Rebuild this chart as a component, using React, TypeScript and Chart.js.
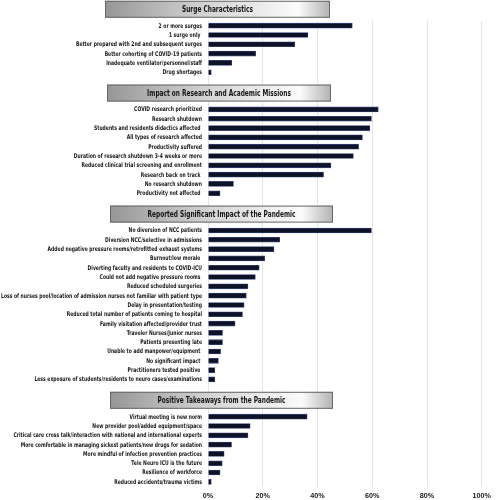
import React, { useEffect, useRef } from "react";
import { Chart, registerables } from "chart.js";

Chart.register(...registerables);

const sectionTitles = [
  "Surge Characteristics",
  "Impact on Research and Academic Missions",
  "Reported Significant Impact of the Pandemic",
  "Positive Takeaways from the Pandemic",
];

const surgeLabels = [
  "2 or more surges",
  "1 surge only ",
  "Better prepared with 2nd and subsequent surges",
  "Better cohorting of COVID-19 patients",
  "Inadequate ventilator/personnel/staff",
  "Drug shortages",
];
const surgeValues = [52.7, 36.5, 31.7, 17.4, 8.7, 1.2];

const researchLabels = [
  "COVID research prioritized",
  "Research shutdown",
  "Students and residents didactics affected ",
  "All types of research affected",
  "Productivity suffered",
  "Duration of research shutdown 3-4 weeks or more",
  "Reduced clinical trial screening and enrollment",
  "Research back on track ",
  "No research shutdown",
  "Productivity not affected ",
];
const researchValues = [62.2, 59.7, 59.1, 56.4, 55.0, 53.1, 44.9, 42.2, 9.3, 4.4];

const impactLabels = [
  "No diversion of NCC patients",
  "Diversion NCC/selective in admissions",
  "Added negative pressure rooms/retrofitted exhaust systems",
  "Burnout/low morale ",
  "Diverting faculty and residents to COVID-ICU",
  "Could not add negative pressure rooms ",
  "Reduced scheduled surgeries",
  "Loss of nurses pool/location of admission nurses not familiar with patient type",
  "Delay in presentation/testing",
  "Reduced total number of patients coming to hospital",
  "Family visitation affected/provider trust",
  "Traveler Nurses/Junior nurses",
  "Patients presenting late",
  "Unable to add manpower/equipment ",
  "No significant impact ",
  "Practitioners tested positive ",
  "Less exposure of students/residents to neuro cases/examinations",
];
const impactValues = [59.7, 26.2, 24.1, 20.7, 18.7, 17.3, 14.6, 14.0, 13.2, 12.6, 9.9, 5.3, 5.3, 4.6, 3.8, 2.5, 2.5];

const positiveLabels = [
  "Virtual meeting is new norm",
  "New provider pool/added equipment/space",
  "Critical care cross talk/interaction with national and international experts",
  "More comfortable in managing sickest patients/new drugs for sedation",
  "More mindful of infection prevention practices",
  "Tele Neuro ICU is the future",
  "Resilience of workforce",
  "Reduced accidents/trauma victims",
];
const positiveValues = [36.2, 15.4, 14.6, 8.6, 5.9, 5.2, 4.4, 1.2];

const xTicks = [0, 20, 40, 60, 80, 100];

const sections = [
  { labels: surgeLabels, values: surgeValues },
  { labels: researchLabels, values: researchValues },
  { labels: impactLabels, values: impactValues },
  { labels: positiveLabels, values: positiveValues },
];

const GAP = 3;
const allLabels: string[] = [];
const allValues: (number | null)[] = [];
const sectionStart: number[] = [];
sections.forEach((s, i) => {
  if (i > 0) {
    for (let g = 0; g < GAP; g++) {
      allLabels.push("");
      allValues.push(null);
    }
  }
  sectionStart.push(allLabels.length);
  s.labels.forEach((l, j) => {
    allLabels.push(l);
    allValues.push(s.values[j]);
  });
});

const FONT = "'DejaVu Sans', 'Liberation Sans', sans-serif";
const TICK_FONT = "'Liberation Sans', Arial, sans-serif";

const labelPlugin = {
  id: "condensedLabels",
  afterDraw(chart: any) {
    const ctx = chart.ctx;
    const y = chart.scales.y;
    ctx.save();
    ctx.font = "bold 6.4px " + FONT;
    const longest = impactLabels[7];
    const sx = 201 / ctx.measureText(longest).width;
    ctx.fillStyle = "#151515";
    ctx.textAlign = "right";
    ctx.textBaseline = "middle";
    allLabels.forEach((lab, i) => {
      if (!lab) return;
      const py = y.getPixelForValue(i);
      ctx.save();
      ctx.translate(202, py + 0.3);
      ctx.scale(sx, 1);
      ctx.fillText(lab, 0, 0);
      ctx.restore();
    });
    ctx.restore();
  },
};

const headerPlugin = {
  id: "sectionHeaders",
  afterDraw(chart: any) {
    const ctx = chart.ctx;
    const y = chart.scales.y;
    const step = Math.abs(y.getPixelForValue(1) - y.getPixelForValue(0));
    const boxes = [
      [105, 330],
      [107, 331],
      [110, 333],
      [110, 333],
    ];
    ctx.save();
    ctx.font = "bold 8.8px " + FONT;
    const hsx = 71 / ctx.measureText(sectionTitles[0]).width;
    ctx.restore();
    sectionStart.forEach((idx, i) => {
      const cy = y.getPixelForValue(idx) - 1.76 * step;
      const h = 17;
      const [x0, x1] = boxes[i];
      const top = cy - h / 2;
      ctx.save();
      const grad = ctx.createLinearGradient(x0, 0, x1, 0);
      grad.addColorStop(0, "#969696");
      grad.addColorStop(0.45, "#d4d4d4");
      grad.addColorStop(0.86, "#fbfbfb");
      grad.addColorStop(1, "#b2b2b2");
      ctx.fillStyle = grad;
      ctx.fillRect(x0, top, x1 - x0, h);
      ctx.strokeStyle = "#666666";
      ctx.lineWidth = 1;
      ctx.strokeRect(x0 + 0.5, top + 0.5, x1 - x0 - 1, h - 1);
      ctx.fillStyle = "#151515";
      ctx.font = "bold 8.8px " + FONT;
      ctx.textAlign = "center";
      ctx.textBaseline = "middle";
      ctx.translate((x0 + x1) / 2, cy + 0.5);
      ctx.scale(hsx, 1);
      ctx.fillText(sectionTitles[i], 0, 0);
      ctx.restore();
    });
  },
};

export default function App() {
  const ref = useRef<HTMLCanvasElement>(null);
  useEffect(() => {
    if (!ref.current) return;
    const chart = new Chart(ref.current, {
      type: "bar",
      data: {
        labels: allLabels,
        datasets: [
          {
            data: allValues as any,
            backgroundColor: "#0e1226",
            borderColor: "#36447a",
            borderWidth: 0.8,
            barThickness: 5,
          },
        ],
      },
      options: {
        indexAxis: "y",
        animation: false,
        responsive: false,
        maintainAspectRatio: false,
        layout: { padding: { top: 21, right: 11, left: 0, bottom: 0 } },
        plugins: {
          legend: { display: false },
          tooltip: { enabled: false },
          title: { display: false },
        },
        scales: {
          x: {
            min: 0,
            max: 100,
            afterBuildTicks(scale: any) {
              scale.ticks = xTicks.map((v) => ({ value: v }));
            },
            afterFit(scale: any) {
              scale.height = 13.5;
            },
            ticks: {
              callback: (v: any) => v + "%",
              font: { family: TICK_FONT, size: 7.2, weight: "bold" },
              color: "#1a1a1a",
              padding: 5,
              maxRotation: 0,
            },
            grid: { color: "#e4e4e4", lineWidth: 1, drawTicks: false },
            border: { display: false },
          },
          y: {
            afterFit(scale: any) {
              scale.width = 208;
            },
            ticks: { display: false, autoSkip: false },
            grid: { display: false },
            border: { display: false },
          },
        },
      },
      plugins: [labelPlugin, headerPlugin],
    });
    return () => chart.destroy();
  }, []);
  return (
    <div style={{ position: "fixed", left: 0, top: 0, width: 496, height: 500, background: "#ffffff" }}>
      <canvas ref={ref} width={496} height={500} style={{ width: 496, height: 500, display: "block" }} />
    </div>
  );
}
